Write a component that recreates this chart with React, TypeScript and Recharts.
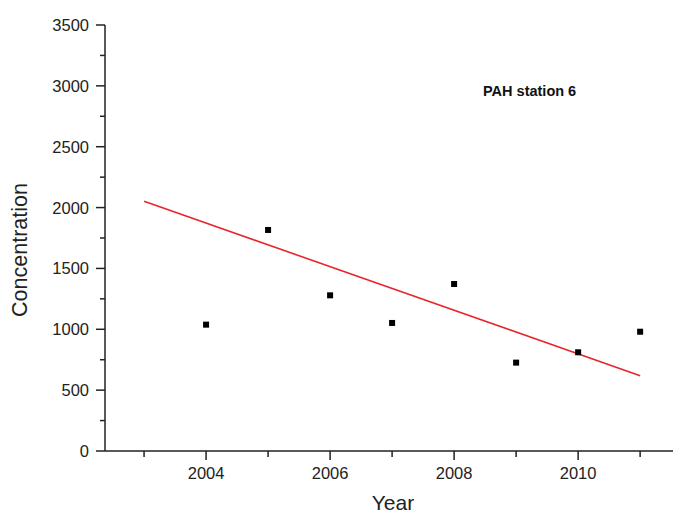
import React from 'react';
import { ComposedChart, Scatter, Line, XAxis, YAxis, Customized } from 'recharts';

// measured points, one per year
const years = [2004, 2005, 2006, 2007, 2008, 2009, 2010, 2011];
const concentration = [1038, 1816, 1279, 1052, 1372, 726, 811, 980];

// linear fit endpoints
const fitYears = [2003, 2011];
const fitValues = [2052, 619];

const xTicks = [2003, 2004, 2005, 2006, 2007, 2008, 2009, 2010, 2011];
const xLabelled = [2004, 2006, 2008, 2010];
const yTicks = [0, 250, 500, 750, 1000, 1250, 1500, 1750, 2000, 2250, 2500, 2750, 3000, 3250, 3500];

const points = years.map((year, i) => ({ year, value: concentration[i] }));
const fit = fitYears.map((year, i) => ({ year, value: fitValues[i] }));

const FONT = '"Liberation Sans", Arial, sans-serif';

const XTick = (props: any) => {
  const { x, y, payload } = props;
  const major = xLabelled.includes(payload.value);
  return (
    <g>
      <line x1={x} x2={x} y1={y} y2={y + (major ? 9 : 6)} stroke="#222" strokeWidth={1.5} />
      {major && (
        <text x={x} y={y + 28} textAnchor="middle" fontSize={16.5} fontFamily={FONT} fill="#222">
          {payload.value}
        </text>
      )}
    </g>
  );
};

const YTick = (props: any) => {
  const { x, y, payload } = props;
  const major = payload.value % 500 === 0;
  return (
    <g>
      <line x1={x - (major ? 9 : 5)} x2={x} y1={y} y2={y} stroke="#222" strokeWidth={1.5} />
      {major && (
        <text x={x - 16} y={y + 6} textAnchor="end" fontSize={16.5} fontFamily={FONT} fill="#222">
          {payload.value}
        </text>
      )}
    </g>
  );
};

const Square = (props: any) => {
  const { cx, cy } = props;
  return <rect x={cx - 3} y={cy - 3} width={6} height={6} fill="#000" />;
};

const Labels = () => (
  <g fontFamily={FONT}>
    <text x={483} y={96} fontSize={14.5} fontWeight="bold" fill="#111">
      PAH station 6
    </text>
    <text x={393} y={510} fontSize={21} textAnchor="middle" fill="#222">
      Year
    </text>
    <text x={27} y={250} fontSize={21.5} textAnchor="middle" fill="#222" transform="rotate(-90 27 250)">
      Concentration
    </text>
  </g>
);

export default function App() {
  return (
    <div style={{ position: 'absolute', left: 0, top: 0, background: '#fff' }}>
      <ComposedChart
        width={673}
        height={513}
        margin={{ top: 25, right: 0, bottom: 0, left: 0 }}
      >
        <XAxis
          dataKey="year"
          type="number"
          domain={[2002.37, 2011.53]}
          ticks={xTicks}
          allowDataOverflow
          interval={0}
          height={62}
          tickSize={0}
          tickMargin={0}
          tickLine={false}
          tick={<XTick />}
          axisLine={{ stroke: '#222', strokeWidth: 1.5 }}
        />
        <YAxis
          dataKey="value"
          type="number"
          domain={[0, 3500]}
          ticks={yTicks}
          interval={0}
          width={105}
          tickSize={0}
          tickMargin={0}
          tickLine={false}
          tick={<YTick />}
          axisLine={{ stroke: '#222', strokeWidth: 1.5 }}
        />
        <Line
          data={fit}
          dataKey="value"
          stroke="#e8262a"
          strokeWidth={1.6}
          dot={false}
          activeDot={false}
          isAnimationActive={false}
        />
        <Scatter data={points} dataKey="value" shape={<Square />} isAnimationActive={false} />
        <Customized component={Labels} />
      </ComposedChart>
    </div>
  );
}
